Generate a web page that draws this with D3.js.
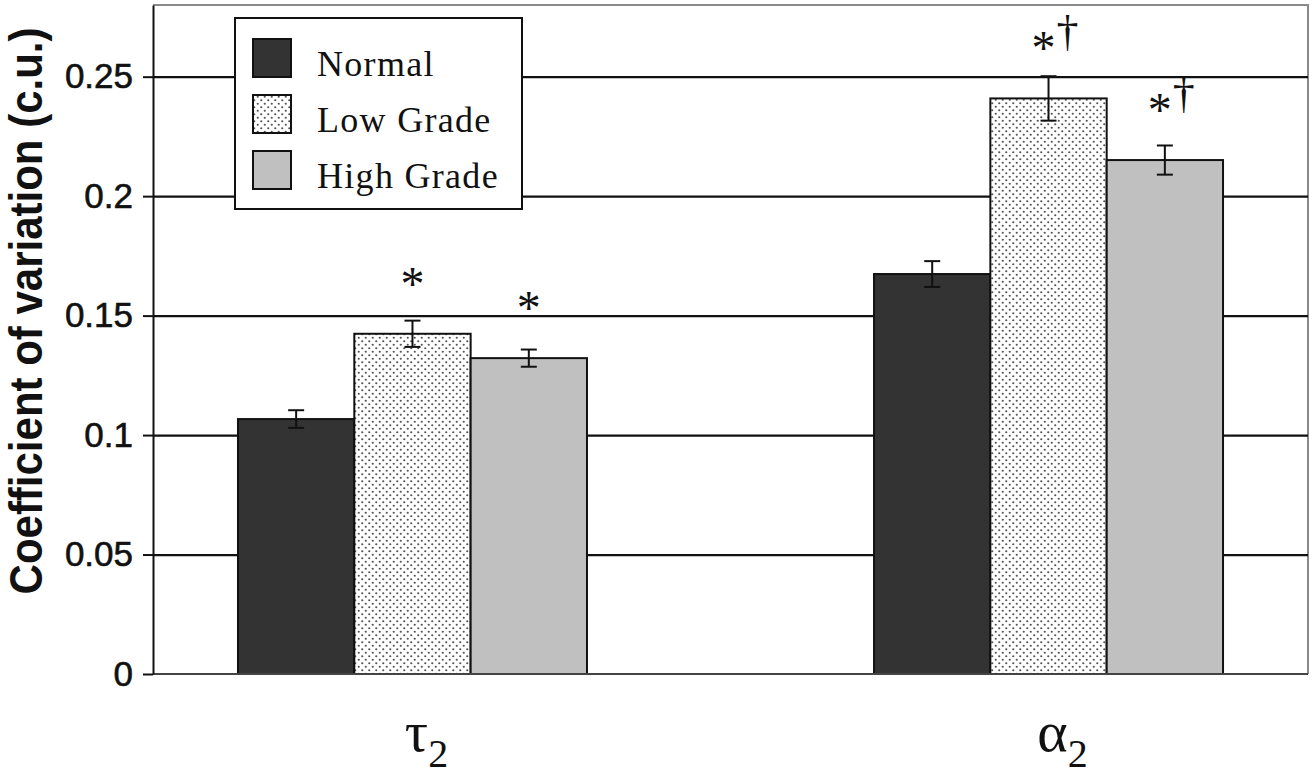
<!DOCTYPE html>
<html>
<head>
<meta charset="utf-8">
<script src="https://cdn.jsdelivr.net/npm/d3@7"></script>
<style>
  body { margin: 0; background: #fff; }
</style>
</head>
<body>
<div id="chart"></div>
<script>
const width = 1316;
const height = 777;
const marginTop = 5;
const marginBottom = 103;
const marginRight = 8;
const marginLeft = 153;

// data
const categories = ['τ2', 'α2'];
const series = ['Normal', 'Low Grade', 'High Grade'];
const normalVals = [0.1067, 0.1674];
const lowVals = [0.1424, 0.2409];
const highVals = [0.1322, 0.2151];
const normalErr = [0.0037, 0.0054];
const lowErr = [0.0055, 0.0093];
const highErr = [0.0036, 0.0061];
const lowMarks = ['*', '*†'];
const highMarks = ['*', '*†'];
const yTicks = [0, 0.05, 0.1, 0.15, 0.2, 0.25];

const values = [normalVals, lowVals, highVals];
const errors = [normalErr, lowErr, highErr];
const marks = [['', ''], lowMarks, highMarks];

const rows = [];
categories.forEach((c, i) => {
    series.forEach((s, j) => {
        rows.push({ cat: c, series: s, value: values[j][i], err: errors[j][i], mark: marks[j][i] });
    });
});

const svg = d3.select('#chart')
    .append('svg')
    .attr('width', width)
    .attr('height', height)
    .style('font-family', 'Liberation Sans, Arial, sans-serif');

const defs = svg.append('defs');
const pat = defs.append('pattern')
    .attr('id', 'dots')
    .attr('patternUnits', 'userSpaceOnUse')
    .attr('width', 7)
    .attr('height', 7);
pat.append('rect').attr('width', 7).attr('height', 7).attr('fill', '#fff');
pat.append('circle').attr('cx', 1.75).attr('cy', 1.75).attr('r', 1.1).attr('fill', '#555');
pat.append('circle').attr('cx', 5.25).attr('cy', 5.25).attr('r', 1.1).attr('fill', '#555');

const fills = d3.scaleOrdinal()
    .domain(series)
    .range(['#333333', 'url(#dots)', '#c0c0c0']);

const x0 = d3.scaleBand()
    .domain(categories)
    .range([marginLeft, width - marginRight])
    .paddingInner(0.4513)
    .paddingOuter(0.1336);

const x1 = d3.scaleBand()
    .domain(series)
    .range([0, x0.bandwidth()]);

const y = d3.scaleLinear()
    .domain([0, 0.28])
    .range([height - marginBottom, marginTop]);

// plot frame (top and right, grey)
svg.append('path')
    .attr('d', `M${marginLeft},${marginTop}H${width - marginRight}V${height - marginBottom}`)
    .attr('fill', 'none')
    .attr('stroke', '#8a8a8a')
    .attr('stroke-width', 2);

// grid lines
svg.append('g')
    .attr('class', 'grid')
    .attr('transform', `translate(${marginLeft},0)`)
    .call(d3.axisLeft(y).tickValues(yTicks.slice(1)).tickSize(-(width - marginLeft - marginRight)).tickFormat(''))
    .call((g) => g.select('.domain').remove())
    .call((g) => g.selectAll('line').attr('stroke', '#111').attr('stroke-width', 2.2));

// legend box
const legend = svg.append('g')
    .attr('class', 'legend')
    .attr('transform', 'translate(235,18)');

legend.append('rect')
    .attr('width', 287)
    .attr('height', 191)
    .attr('fill', '#fff')
    .attr('stroke', '#111')
    .attr('stroke-width', 2);

series.forEach((s, i) => {
    legend.append('rect')
        .attr('x', 18)
        .attr('y', 21 + i * 56)
        .attr('width', 38)
        .attr('height', 38)
        .attr('fill', fills(s))
        .attr('stroke', '#111')
        .attr('stroke-width', 2);
    legend.append('text')
        .attr('x', 82)
        .attr('y', 58 + i * 56)
        .text(s)
        .style('font-family', 'Liberation Serif, Times New Roman, serif')
        .style('font-size', '36px')
        .style('letter-spacing', '1.3px')
        .attr('fill', '#111');
});

// bars
const bars = svg.append('g').attr('class', 'bars');

bars.selectAll('rect')
    .data(rows)
    .enter()
    .append('rect')
    .attr('x', (d) => x0(d.cat) + x1(d.series))
    .attr('y', (d) => y(d.value))
    .attr('width', x1.bandwidth())
    .attr('height', (d) => y(0) - y(d.value))
    .attr('fill', (d) => fills(d.series))
    .attr('stroke', '#111')
    .attr('stroke-width', 2);

// error bars
const errG = svg.append('g').attr('class', 'errors')
    .attr('stroke', '#111')
    .attr('stroke-width', 2);

rows.forEach((d) => {
    const cx = x0(d.cat) + x1(d.series) + x1.bandwidth() / 2;
    const top = y(d.value + d.err);
    const bot = y(d.value - d.err);
    errG.append('line').attr('x1', cx).attr('x2', cx).attr('y1', top).attr('y2', bot);
    errG.append('line').attr('x1', cx - 8).attr('x2', cx + 8).attr('y1', top).attr('y2', top);
    errG.append('line').attr('x1', cx - 8).attr('x2', cx + 8).attr('y1', bot).attr('y2', bot);
});

// significance marks, placed a fixed distance over the bar top
const markG = svg.append('g').attr('class', 'marks')
    .style('font-family', 'Liberation Serif, Times New Roman, serif')
    .style('font-size', '48px')
    .attr('fill', '#111');

rows.filter((d) => d.mark).forEach((d) => {
    const cx = x0(d.cat) + x1(d.series) + x1.bandwidth() / 2;
    const base = y(d.value) - 34;
    const hasDagger = d.mark.includes('†');
    markG.append('text')
        .attr('x', hasDagger ? cx - 5 : cx)
        .attr('y', base)
        .style('text-anchor', 'middle')
        .text('*');
    if (hasDagger) {
        markG.append('text')
            .attr('x', cx + 19)
            .attr('y', base - 18)
            .style('text-anchor', 'middle')
            .style('font-size', '44px')
            .text('†');
    }
});

// x axis line
svg.append('line')
    .attr('x1', marginLeft)
    .attr('x2', width - marginRight)
    .attr('y1', y(0))
    .attr('y2', y(0))
    .attr('stroke', '#444')
    .attr('stroke-width', 2);

// y axis
svg.append('g')
    .attr('class', 'yAxis')
    .attr('transform', `translate(${marginLeft},0)`)
    .call(d3.axisLeft(y).tickValues(yTicks).tickSizeInner(10).tickSizeOuter(0).tickPadding(10).tickFormat((d) => String(d)))
    .call((g) => g.select('.domain').attr('stroke', '#111').attr('stroke-width', 2))
    .call((g) => g.selectAll('line').attr('stroke', '#111').attr('stroke-width', 2))
    .call((g) => g.selectAll('text')
        .style('font-family', 'Liberation Sans, Arial, sans-serif')
        .style('font-size', '35px')
        .attr('fill', '#111')
        .attr('stroke', '#111')
        .attr('stroke-width', 0.6));

// category labels
svg.append('g')
    .attr('class', 'xlabels')
    .selectAll('text')
    .data(categories)
    .enter()
    .append('text')
    .attr('x', (d) => x0(d) + x0.bandwidth() / 2 + 14)
    .attr('y', 751)
    .style('text-anchor', 'middle')
    .style('font-family', 'Liberation Serif, Times New Roman, serif')
    .style('font-size', '58px')
    .attr('fill', '#111')
    .each(function (d) {
        const t = d3.select(this);
        t.append('tspan').text(d.slice(0, -1));
        t.append('tspan').attr('dy', 16).style('font-size', '40px').text(d.slice(-1));
    });

// y label
svg.append('text')
    .attr('class', 'ylabel')
    .attr('transform', 'translate(42,311) rotate(-90) scale(1,1.12)')
    .text('Coefficient of variation (c.u.)')
    .style('font-size', '42px')
    .style('font-weight', 'bold')
    .style('text-anchor', 'middle')
    .style('font-family', 'Liberation Sans, Arial, sans-serif')
    .attr('fill', '#111');
</script>
</body>
</html>
